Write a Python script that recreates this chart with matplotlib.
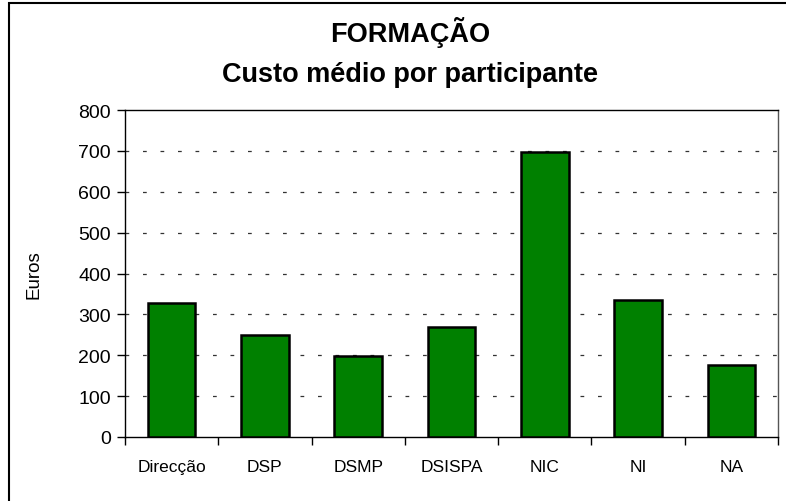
import matplotlib.pyplot as plt
import matplotlib.patches as patches
import numpy as np

plt.rcParams['font.family'] = ['Liberation Sans', 'DejaVu Sans']

categorias = ['Direcção', 'DSP', 'DSMP', 'DSISPA', 'NIC', 'NI', 'NA']
custo_medio = [329, 250, 197, 268, 697, 336, 176]
y_ticks = [0, 100, 200, 300, 400, 500, 600, 700, 800]

fig = plt.figure(figsize=(7.86, 5.02), dpi=100)
ax = fig.add_axes([125 / 786, 1 - 438 / 502, 653 / 786, 327 / 502])

x = np.arange(len(categorias))
ax.bar(x, custo_medio, width=0.51, color='#008000', edgecolor='black', linewidth=1.8, zorder=3)

ax.set_xlim(-0.5, len(categorias) - 0.5)
ax.set_ylim(0, 800)
ax.set_yticks(y_ticks)
ax.set_yticklabels([str(v) for v in y_ticks], fontsize=14)
ax.set_xticks(x)
ax.set_xticklabels(categorias, fontsize=12.5)
ax.tick_params(axis='x', which='major', length=0, pad=16)
ax.set_xticks(np.arange(len(categorias) + 1) - 0.5, minor=True)
ax.tick_params(axis='x', which='minor', length=6, direction='out', width=1)
ax.tick_params(axis='y', length=6, direction='out', width=1, pad=4)

for v in y_ticks[1:-1]:
    ax.axhline(v, color='#333333', linewidth=0.9, linestyle=(0, (3, 11)), zorder=1)

for s in ax.spines.values():
    s.set_color('black')
    s.set_linewidth(1)
ax.spines['right'].set_color('#555555')

ax.set_ylabel('Euros', fontsize=13.5, labelpad=26)

fig.text(0.522, 1 - 33 / 502, 'FORMAÇÃO', ha='center', va='center', fontsize=19.5, fontweight='bold')
fig.text(0.522, 1 - 75 / 502, 'Custo médio por participante', ha='center', va='center', fontsize=19.5, fontweight='bold')

# moldura exterior do gráfico
frame = patches.Rectangle((9 / 786, -0.1), 1.2, 1.1 - 4 / 502, transform=fig.transFigure,
                          fill=False, edgecolor='black', linewidth=1.5, clip_on=False)
fig.patches.append(frame)

fig.savefig('out.png', dpi=100)
